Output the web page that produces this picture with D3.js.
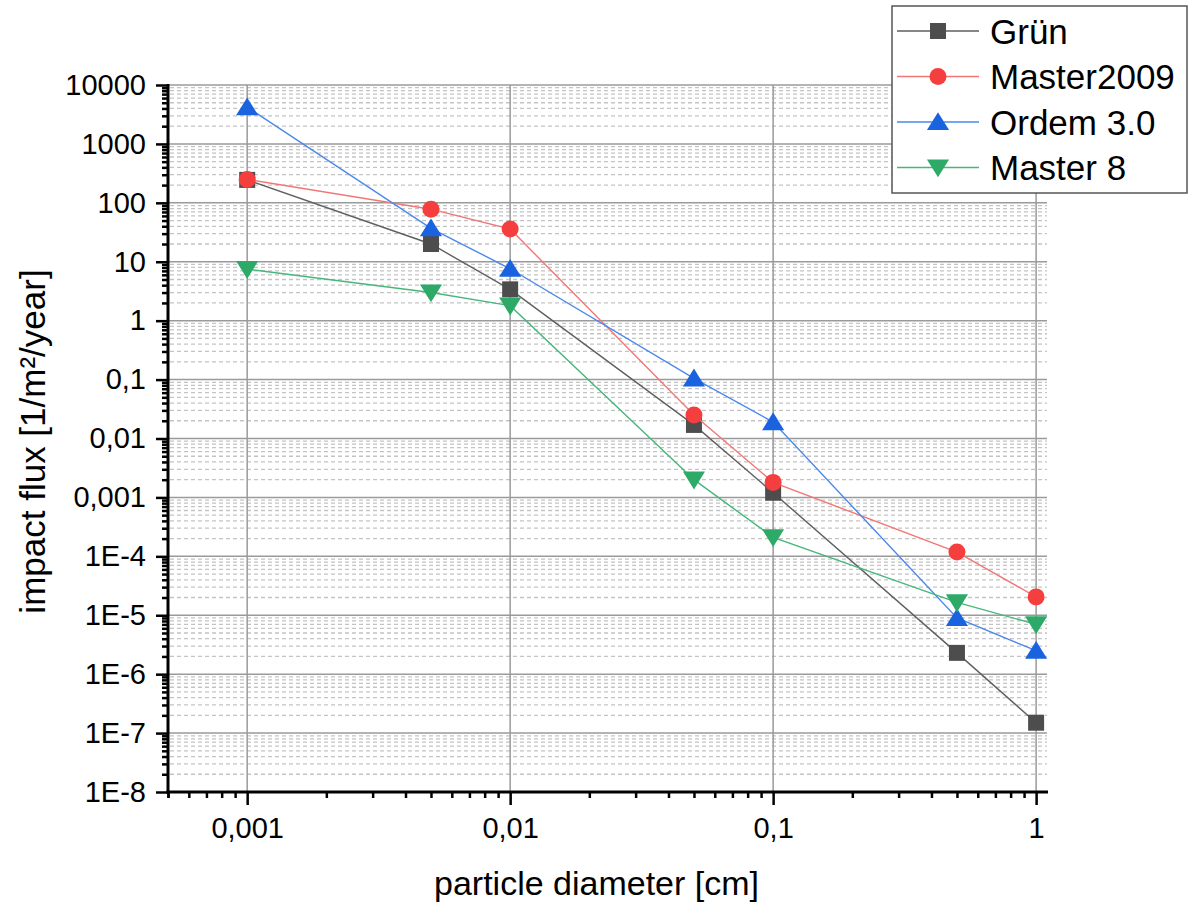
<!DOCTYPE html>
<html>
<head>
<meta charset="utf-8">
<script src="https://cdn.jsdelivr.net/npm/d3@7"></script>
<style>
  body { margin: 0; background: #fff; }
  svg { font-family: "Liberation Sans", Arial, sans-serif; }
</style>
</head>
<body>
<div id="chart"></div>
<script>
// particle diameter [cm]
const diameters = [0.001, 0.005, 0.01, 0.05, 0.1, 0.5, 1];

// impact flux [1/m²/year] per model
const grun       = [245, 20, 3.4, 0.017, 0.0012, 2.3e-6, 1.5e-7];
const master2009 = [250, 78, 36, 0.025, 0.0018, 1.18e-4, 2.05e-5];
const ordem30    = [4200, 37, 7.6, 0.105, 0.019, 9e-6, 2.5e-6];
const master8    = [7.5, 3.0, 1.8, 0.002, 2.1e-4, 1.65e-5, 7e-6];

const seriesNames = ["Grün", "Master2009", "Ordem 3.0", "Master 8"];

const yTickValues = [1e4, 1e3, 1e2, 1e1, 1, 0.1, 0.01, 0.001, 1e-4, 1e-5, 1e-6, 1e-7, 1e-8];
const yTickLabels = ["10000", "1000", "100", "10", "1", "0,1", "0,01", "0,001", "1E-4", "1E-5", "1E-6", "1E-7", "1E-8"];
const xTickValues = [0.001, 0.01, 0.1, 1];
const xTickLabels = ["0,001", "0,01", "0,1", "1"];

const width = 1188;
const height = 904;
const m = { left: 168, right: 141, top: 85, bottom: 112 };

const svg = d3.select("#chart").append("svg")
    .attr("width", width)
    .attr("height", height);

const x = d3.scaleLog()
    .domain([0.0005, 1.1])
    .range([m.left, width - m.right]);

const y = d3.scaleLog()
    .domain([1e-8, 1e4])
    .range([height - m.bottom, m.top]);

// minor values (2..9 per decade) inside the domains
function minorValues(scale) {
    const [a, b] = scale.domain();
    const out = [];
    for (let e = Math.floor(Math.log10(a)); e <= Math.ceil(Math.log10(b)); e++) {
        for (let k = 2; k <= 9; k++) {
            const v = k * Math.pow(10, e);
            if (v >= a * 0.999 && v <= b * 1.001) out.push(v);
        }
    }
    return out;
}
const yMinor = minorValues(y);
const xMinor = minorValues(x).concat([0.0005]);

// Grid
const grid = svg.append("g").attr("class", "grid");
grid.selectAll(".ymin").data(yMinor).join("line")
    .attr("x1", m.left + 2).attr("x2", width - m.right)
    .attr("y1", d => y(d)).attr("y2", d => y(d))
    .attr("stroke", "#c4c4c4").attr("stroke-width", 1.3)
    .attr("stroke-dasharray", "4,3");
grid.selectAll(".ymaj").data(yTickValues.slice(0, -1)).join("line")
    .attr("x1", m.left).attr("x2", width - m.right)
    .attr("y1", d => y(d)).attr("y2", d => y(d))
    .attr("stroke", "#9a9a9a").attr("stroke-width", 1.5);
grid.selectAll(".xmaj").data(xTickValues).join("line")
    .attr("x1", d => x(d)).attr("x2", d => x(d))
    .attr("y1", m.top).attr("y2", height - m.bottom)
    .attr("stroke", "#9a9a9a").attr("stroke-width", 1.5);

// Axes
function styleAxis(g) {
    g.select(".domain").remove();
    g.selectAll(".tick line").attr("stroke", "#000").attr("stroke-width", 2.5);
    g.selectAll(".tick text").attr("fill", "#000").style("font-size", "29px");
}

svg.append("g")
    .attr("transform", `translate(${m.left},0)`)
    .call(d3.axisLeft(y).tickValues(yMinor).tickSize(6).tickFormat(""))
    .call(styleAxis);
svg.append("g")
    .attr("transform", `translate(${m.left},0)`)
    .call(d3.axisLeft(y).tickValues(yTickValues).tickSize(12).tickPadding(10)
        .tickFormat((d, i) => yTickLabels[i]))
    .call(styleAxis);

svg.append("g")
    .attr("transform", `translate(0,${height - m.bottom})`)
    .call(d3.axisBottom(x).tickValues(xMinor).tickSize(6).tickFormat(""))
    .call(styleAxis);
svg.append("g")
    .attr("transform", `translate(0,${height - m.bottom})`)
    .call(d3.axisBottom(x).tickValues(xTickValues).tickSize(13).tickPadding(12)
        .tickFormat((d, i) => xTickLabels[i]))
    .call(styleAxis);

// thick axis lines
svg.append("line")
    .attr("x1", m.left).attr("x2", m.left)
    .attr("y1", m.top - 1).attr("y2", height - m.bottom + 1.5)
    .attr("stroke", "#000").attr("stroke-width", 3);
svg.append("line")
    .attr("x1", m.left - 1.5).attr("x2", width - m.right + 1)
    .attr("y1", height - m.bottom).attr("y2", height - m.bottom)
    .attr("stroke", "#000").attr("stroke-width", 3);

// Axis titles
svg.append("text")
    .attr("x", (m.left + width - m.right) / 2 - 11)
    .attr("y", 895)
    .attr("text-anchor", "middle")
    .style("font-size", "34px")
    .text("particle diameter [cm]");

const yLabelX = 45;
const yLabelY = (m.top + height - m.bottom) / 2 + 3;
svg.append("text")
    .attr("x", yLabelX)
    .attr("y", yLabelY)
    .attr("text-anchor", "middle")
    .attr("transform", `rotate(-90, ${yLabelX}, ${yLabelY})`)
    .style("font-size", "35px")
    .text("impact flux [1/m²/year]");

// Marker shapes
function markerPath(type, s) {
    if (type === "square") return `M${-s},${-s}H${s}V${s}H${-s}Z`;
    if (type === "up") return `M0,${-s * 1.15}L${s * 1.3},${s * 0.95}L${-s * 1.3},${s * 0.95}Z`;
    if (type === "down") return `M0,${s * 1.15}L${s * 1.3},${-s * 0.95}L${-s * 1.3},${-s * 0.95}Z`;
    return "";
}

const series = [
    { name: seriesNames[0], values: grun, line: "#5f5f5f", fill: "#4d4d4d", shape: "square" },
    { name: seriesNames[1], values: master2009, line: "#f27676", fill: "#f53f3f", shape: "circle" },
    { name: seriesNames[2], values: ordem30, line: "#4a88ec", fill: "#1a63e0", shape: "up" },
    { name: seriesNames[3], values: master8, line: "#45b77a", fill: "#2eaa68", shape: "down" }
];

const line = d3.line().x(d => x(d[0])).y(d => y(d[1]));

function drawMarker(sel, s) {
    if (s.shape === "circle") {
        sel.append("circle").attr("r", 8.5).attr("fill", s.fill);
    } else {
        sel.append("path").attr("d", markerPath(s.shape, s.shape === "square" ? 8 : 8.5))
            .attr("fill", s.fill);
    }
}

series.forEach(s => {
    const pts = diameters.map((d, i) => [d, s.values[i]]);
    const g = svg.append("g");
    g.append("path")
        .datum(pts)
        .attr("fill", "none")
        .attr("stroke", s.line)
        .attr("stroke-width", 1.4)
        .attr("d", line);
    g.selectAll(".pt").data(pts).join("g")
        .attr("transform", d => `translate(${x(d[0])},${y(d[1])})`)
        .each(function () { drawMarker(d3.select(this), s); });
});

// Legend
const legend = svg.append("g");
legend.append("rect")
    .attr("x", 892).attr("y", 6)
    .attr("width", 295).attr("height", 187)
    .attr("fill", "#fff")
    .attr("stroke", "#555").attr("stroke-width", 1.5);

series.forEach((s, i) => {
    const cy = 31 + i * 45.5;
    const row = legend.append("g");
    row.append("line")
        .attr("x1", 897).attr("x2", 979)
        .attr("y1", cy).attr("y2", cy)
        .attr("stroke", s.line).attr("stroke-width", 1.4);
    const mk = row.append("g").attr("transform", `translate(938,${cy})`);
    drawMarker(mk, s);
    row.append("text")
        .attr("x", 990).attr("y", cy)
        .attr("dy", "0.36em")
        .style("font-size", "35px")
        .text(s.name);
});
</script>
</body>
</html>
